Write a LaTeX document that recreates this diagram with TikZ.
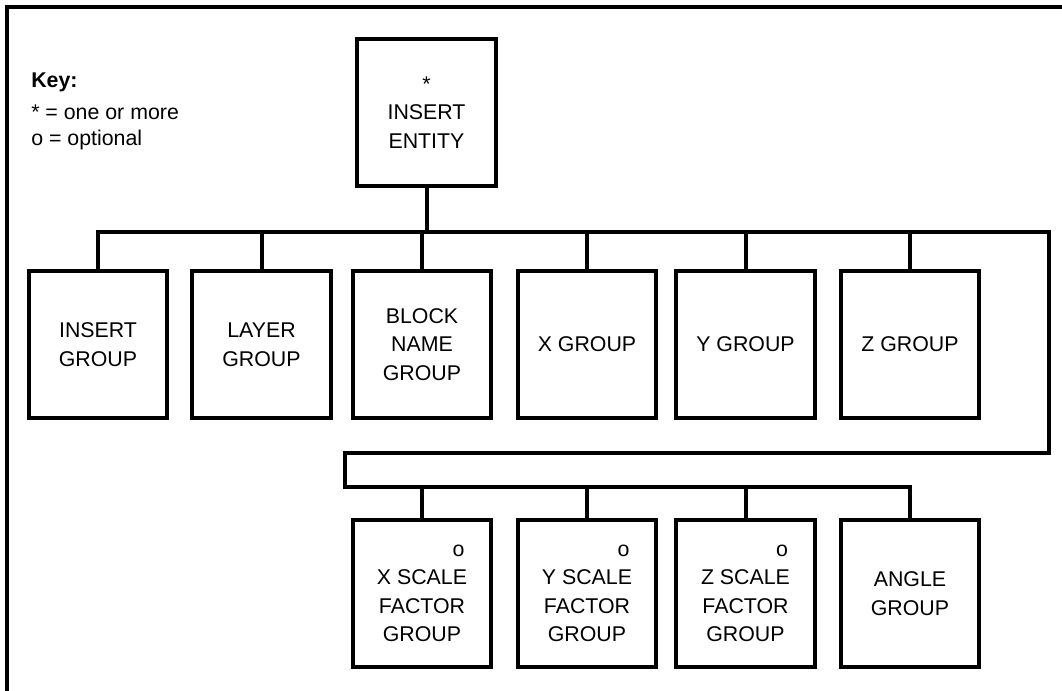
\documentclass[tikz,border=0pt]{standalone}
\usepackage{fontspec}
\setmainfont{Liberation Sans}
\usetikzlibrary{positioning}
\newcommand{\optmark}{\hspace*{55pt}o}
\tikzset{
  group/.style={draw,line width=3pt,minimum width=104pt,minimum height=110pt,
    align=center,inner sep=2pt,font=\fontsize{16}{21.4}\selectfont},
  link/.style={line width=3pt},
  keytext/.style={anchor=base west,inner sep=0pt,font=\fontsize{16}{20}\selectfont}
}

\begin{document}
\begin{tikzpicture}[
  x=0.75pt,
  y=-0.75pt
]
\useasboundingbox (0,0) rectangle (1062,691);

% frame, cut off at the right and bottom
\draw[line width=3pt] (7,691) -- (7,7) -- (1062,7);

% key
\node[keytext] (key) at (31,88) {\textbf{Key:}};
\node[keytext] (keystar) at (31,120) {* = one or more};
\node[keytext] (keyopt) at (31,146) {o = optional};

% top
\node[group] (entity) at (426.5,112.5) {*\\INSERT\\ENTITY};

% first row
\node[group] (insgrp) at (98,344.5) {INSERT\\GROUP};
\node[group] (laygrp) at (261.5,344.5) {LAYER\\GROUP};
\node[group] (blkgrp) at (422,344.5) {BLOCK\\NAME\\GROUP};
\node[group] (xgrp) at (587,344.5) {X GROUP};
\node[group] (ygrp) at (745.5,344.5) {Y GROUP};
\node[group] (zgrp) at (910,344.5) {Z GROUP};

% second row
\node[group] (xscale) at (422,593.5) {\optmark\\X SCALE\\FACTOR\\GROUP};
\node[group] (yscale) at (587,593.5) {\optmark\\Y SCALE\\FACTOR\\GROUP};
\node[group] (zscale) at (745.5,593.5) {\optmark\\Z SCALE\\FACTOR\\GROUP};
\node[group] (anggrp) at (910,593.5) {ANGLE\\GROUP};

% bus corners
\coordinate (busR) at (1049,232);
\coordinate (turnL) at (345,453);
\coordinate (lowL) at (345,487);

% connectors
\draw[link] (entity.south) -- (entity.south |- busR);
\draw[link] (insgrp.north) |- (busR) |- (turnL) -- (lowL) -| (anggrp.north);
\draw[link] (laygrp.north) -- (laygrp.north |- busR);
\draw[link] (blkgrp.north) -- (blkgrp.north |- busR);
\draw[link] (xgrp.north) -- (xgrp.north |- busR);
\draw[link] (ygrp.north) -- (ygrp.north |- busR);
\draw[link] (zgrp.north) -- (zgrp.north |- busR);
\draw[link] (xscale.north) -- (xscale.north |- lowL);
\draw[link] (yscale.north) -- (yscale.north |- lowL);
\draw[link] (zscale.north) -- (zscale.north |- lowL);

\end{tikzpicture}
\end{document}
